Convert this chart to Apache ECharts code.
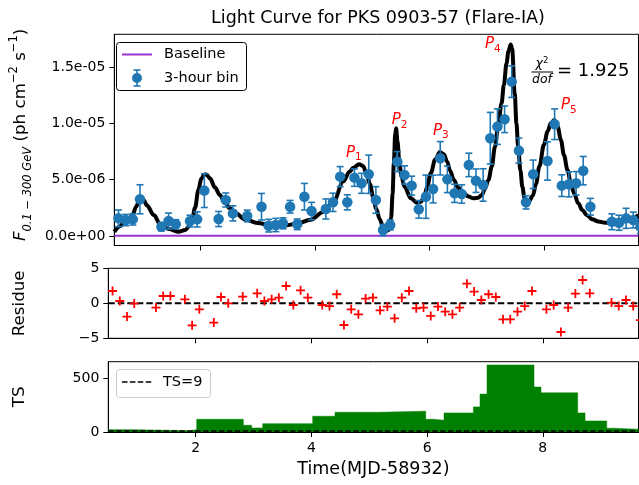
<!DOCTYPE html>
<html><head><meta charset="utf-8">
<script src="https://cdn.jsdelivr.net/npm/echarts@6/dist/echarts.min.js"></script>
<style>html,body{margin:0;padding:0;background:#fff}#c{width:639px;height:485px}</style>
</head><body><div id="c"></div>
<script>
// ---- data (flux values in units of 1e-6 ph cm^-2 s^-1) ----
const times = [0.5625,0.6875,0.8125,0.9375,1.3125,1.4375,1.5625,1.8125,1.9375,2.0625,2.3125,2.4375,2.5625,2.8125,
  3.0625,3.1875,3.3125,3.4375,3.5625,3.6875,3.8125,3.9375,4.1875,4.3125,4.4375,4.5625,4.6875,4.8125,4.9375,
  5.0625,5.1875,5.3125,5.4375,5.5625,5.6875,5.8125,5.9375,6.0625,6.1875,6.3125,6.4375,6.5625,6.6875,6.8125,
  6.9375,7.0625,7.1875,7.3125,7.4375,7.5625,7.6875,7.8125,8.0625,8.1875,8.3125,8.4375,8.5625,8.6875,8.8125,
  9.1875,9.3125,9.4375,9.5625,9.6875];
const fluxE6 = [1.57,1.42,1.48,3.26,0.83,1.33,1.04,1.33,1.48,4.03,1.51,3.2,2.01,1.78,
  2.6,0.92,0.98,1.13,2.6,1.04,3.49,2.22,2.4,2.99,5.27,2.99,5.18,4.68,5.48,
  3.2,0.53,0.98,6.6,5.42,4.47,2.37,3.49,4.17,6.9,5.03,3.79,3.73,6.31,4.91,
  4.53,8.68,9.71,10.36,13.7,7.58,2.99,5.48,6.66,9.92,4.47,4.59,4.68,5.8,2.6,
  1.27,1.18,1.57,1.42,0.83];
const fluxErrE6 = [0.74,0.5,0.5,1.29,0.37,0.71,0.41,0.52,0.67,1.5,0.67,0.62,0.67,0.52,
  1.18,0.56,0.59,0.49,0.56,0.47,1.18,0.77,0.89,0.81,0.89,0.67,0.77,0.89,1.7,
  1.18,0.5,0.44,0.89,0.81,0.84,0.78,1.92,1.23,1.48,1.18,0.81,0.81,1.04,1.04,
  1.44,2.29,1.58,1.18,1.4,1.11,0.59,1.26,1.7,1.36,0.96,1.11,1.04,1.26,0.74,
  0.7,0.67,0.89,0.7,0.6];
const residue = [1.76,0.33,-1.9,-0.04,-0.61,1.04,1.04,0.57,-3.14,-0.86,-2.76,0.9,0.0,0.96,
  1.43,0.33,0.57,0.81,2.47,-0.24,1.86,0.81,-0.24,-0.39,1.29,-3.1,-0.86,-1.57,0.67,
  0.81,-1.0,-0.47,-2.14,0.81,1.76,-0.71,-0.61,-1.81,-0.47,-1.19,-1.57,-0.61,2.81,1.67,
  0.47,1.29,0.9,-2.29,-2.29,-1.19,-0.39,1.76,-0.86,-0.24,-4.1,-0.61,1.39,3.33,1.43,
  0.1,-0.39,0.47,-0.39,-2.39];
const fitTimes = [0.489,0.6,0.662,0.74,0.807,0.87,0.939,1.0,1.06,1.181,1.296,1.44,1.613,1.729,1.8,1.844,1.9,1.959,
  2.01,2.062,2.1,2.161,2.25,2.334,2.42,2.506,2.62,2.766,2.996,3.227,3.457,3.687,3.919,4.149,4.321,4.494,4.6,
  4.667,4.771,4.84,4.897,4.96,5.013,5.07,5.129,5.186,5.243,5.29,5.329,5.355,5.376,5.4,5.416,5.44,5.474,5.51,
  5.561,5.675,5.779,5.85,5.907,5.96,6.021,6.1,6.183,6.25,6.309,6.36,6.425,6.5,6.598,6.68,6.771,6.85,6.914,
  6.97,7.03,7.09,7.144,7.2,7.26,7.3,7.347,7.38,7.42,7.445,7.49,7.52,7.549,7.59,7.623,7.66,7.692,7.74,7.808,
  7.86,7.922,8.0,8.067,8.12,8.181,8.24,8.297,8.35,8.413,8.47,8.527,8.6,8.672,8.75,8.845,8.95,9.075,9.2,9.364,
  9.507,9.654];
const fitFluxE6 = [0.38,0.9,1.27,1.5,1.86,2.6,3.45,3.2,2.7,1.86,0.98,0.62,0.38,0.53,0.9,1.27,2.5,4.09,
  5.1,5.45,5.45,5.12,4.3,3.64,3.0,2.46,2.0,1.5,1.15,0.95,0.92,1.1,1.45,2.16,3.05,4.85,5.7,
  6.05,6.38,6.2,5.57,4.6,3.49,2.4,1.5,0.83,0.45,0.55,1.6,3.8,6.45,9.0,9.56,8.4,6.45,5.3,
  4.38,3.35,2.96,3.05,3.49,4.4,5.57,6.8,7.45,7.25,6.6,5.8,4.97,4.3,3.79,3.5,3.35,3.4,3.64,
  4.2,4.97,6.2,7.93,9.8,11.79,13.4,15.34,16.4,17.0,16.6,12.6,10.0,7.93,5.8,4.38,3.4,2.96,3.1,3.6,
  4.6,6.2,8.1,9.3,10.0,10.3,9.7,8.53,7.2,5.86,4.7,3.79,2.9,2.31,1.85,1.48,1.3,1.18,1.18,1.27,
  1.5,1.86];
const baselineFlux = 3e-8;
const tsEdges = [0.489,0.951,1.901,2.017,2.823,2.968,3.158,4.022,4.408,5.174,5.976,6.097,6.292,6.799,6.914,
  7.035,7.848,7.969,8.603,8.73,9.105,9.231,9.66];
const tsValues = [22,12,22,119,63,38,78,147,184,194,119,110,178,234,353,624,419,365,178,103,35,25];
const tsThreshold = 9;
const xTicks = [2,4,6,8];
const fluxTicks = [0,5e-6,1e-5,1.5e-5];
const tsTicks = [0,500];
const peakLabels = ['1','2','3','4','5'];
const chiText = '= 1.925';

// ---- chart ----
const FONT = '"DejaVu Sans", sans-serif';
const XMIN = 0.489, XMAX = 9.654;
const chart = echarts.init(document.getElementById('c'), null, {renderer:'canvas'});

function sci(v){
  if (v === 0) return '0.0e+00';
  const s = v.toExponential(1).split('e');
  const sign = s[1][0] === '-' ? '-' : '+';
  const d = s[1].replace(/[+-]/,'').padStart(2,'0');
  return s[0] + 'e' + sign + d;
}
const pts = times.map((t,i)=>[t, fluxE6[i]*1e-6, fluxErrE6[i]*1e-6]);
const fitData = fitTimes.map((t,i)=>[t, fitFluxE6[i]*1e-6]);
const resData = times.map((t,i)=>[t, residue[i]]);
const tsData = tsEdges.map((e,i)=>[e, tsValues[Math.min(i, tsValues.length-1)]]);

const gl = 108.3, gw = 530.2;
const grids = [
  {left:gl, top:34.3, width:gw, height:211.2},
  {left:gl, top:268.3, width:gw, height:70},
  {left:gl, top:361.7, width:gw, height:70.3}
].map(g=>Object.assign(g,{show:true, borderColor:'#000', borderWidth:1, backgroundColor:'transparent', containLabel:false}));

function xAx(i, labels){
  return {type:'value', gridIndex:i, min:XMIN, max:XMAX,
    axisLine:{show:true, onZero:false, lineStyle:{color:'#000', width:1}},
    axisTick:{show:true, inside:false, length:5, customValues:xTicks, lineStyle:{color:'#000', width:1}},
    axisLabel:{show:labels, customValues:xTicks, margin:9, color:'#000', fontSize:14, fontFamily:FONT},
    splitLine:{show:false}};
}
function yAx(i, min, max, ticks, fmt, name, extra){
  return Object.assign({type:'value', gridIndex:i, min:min, max:max,
    axisLine:{show:true, onZero:false, lineStyle:{color:'#000', width:1}},
    axisTick:{show:true, inside:false, length:5, customValues:ticks, lineStyle:{color:'#000', width:1}},
    axisLabel:{show:true, customValues:ticks, margin:9, color:'#000', fontSize:14, fontFamily:FONT, formatter:fmt},
    splitLine:{show:false},
    name:name, nameLocation:'middle', nameRotate:90,
    nameTextStyle:{color:'#000', fontSize:16.7, fontFamily:FONT}}, extra||{});
}

const errSeries = {
  type:'custom', xAxisIndex:0, yAxisIndex:0, data:pts, encode:{x:0, y:1}, clip:false, z:3,
  renderItem:function(params, api){
    const x = api.value(0), y = api.value(1), e = api.value(2);
    const a = api.coord([x, y+e]), b = api.coord([x, y-e]);
    const cw = 3.5, st = {stroke:'#1f77b4', lineWidth:1.6};
    return {type:'group', children:[
      {type:'line', shape:{x1:a[0],y1:a[1],x2:b[0],y2:b[1]}, style:st},
      {type:'line', shape:{x1:a[0]-cw,y1:a[1],x2:a[0]+cw,y2:a[1]}, style:st},
      {type:'line', shape:{x1:b[0]-cw,y1:b[1],x2:b[0]+cw,y2:b[1]}, style:st}
    ]};
  }
};

const plusPath = 'path://M4,0h2v4h4v2h-4v4h-2v-4h-4v-2h4z';

const topName = '{i|F}{sub|0.1 − 300 GeV}{n| (ph cm}{sup|−2}{n| s}{sup|−1}{n|)}';
const richY = {
  i:{fontStyle:'italic', fontSize:16.7, lineHeight:26, fontFamily:FONT, color:'#000'},
  n:{fontSize:16.7, lineHeight:26, fontFamily:FONT, color:'#000'},
  sub:{fontStyle:'italic', fontSize:11.5, lineHeight:12, verticalAlign:'bottom', fontFamily:FONT, color:'#000'},
  sup:{fontSize:11.5, lineHeight:12, verticalAlign:'top', fontFamily:FONT, color:'#000'}
};

const peakPos = [[346,153],[391.7,120.5],[433,131],[485,44.5],[561,105.5]];
const peakGraphics = peakLabels.map((d,i)=>({
  type:'text', z:100, x:peakPos[i][0], y:peakPos[i][1],
  style:{text:'{p|P}{s|'+d+'}', textVerticalAlign:'middle', verticalAlign:'middle',
    rich:{p:{fontStyle:'italic', fontSize:15, lineHeight:20, fontFamily:FONT, fill:'#ff0000', color:'#ff0000'},
          s:{fontSize:10.5, lineHeight:10, verticalAlign:'bottom', fontFamily:FONT, fill:'#ff0000', color:'#ff0000'}}}
}));

const legendGraphics = [
  {type:'rect', z:100, shape:{x:116.5, y:42.5, width:130, height:48, r:3}, style:{fill:'rgba(255,255,255,0.85)', stroke:'#000', lineWidth:1}},
  {type:'line', z:101, shape:{x1:122, y1:54.5, x2:152, y2:54.5}, style:{stroke:'#9932cc', lineWidth:2}},
  {type:'text', z:101, x:164, y:54.5, style:{text:'Baseline', font:'14.5px '+FONT, fill:'#000', textVerticalAlign:'middle', verticalAlign:'middle'}},
  {type:'line', z:101, shape:{x1:137, y1:70, x2:137, y2:86}, style:{stroke:'#1f77b4', lineWidth:1.6}},
  {type:'line', z:101, shape:{x1:133.5, y1:70, x2:140.5, y2:70}, style:{stroke:'#1f77b4', lineWidth:1.6}},
  {type:'line', z:101, shape:{x1:133.5, y1:86, x2:140.5, y2:86}, style:{stroke:'#1f77b4', lineWidth:1.6}},
  {type:'circle', z:101, shape:{cx:137, cy:78, r:5}, style:{fill:'#1f77b4'}},
  {type:'text', z:101, x:164, y:78, style:{text:'3-hour bin', font:'14.5px '+FONT, fill:'#000', textVerticalAlign:'middle', verticalAlign:'middle'}},
  {type:'rect', z:100, shape:{x:116.5, y:369.5, width:94, height:28, r:3}, style:{fill:'rgba(255,255,255,0.85)', stroke:'#cccccc', lineWidth:1}},
  {type:'line', z:101, shape:{x1:122, y1:382, x2:152, y2:382}, style:{stroke:'#000', lineWidth:1.5, lineDash:[5.5,2.4]}},
  {type:'text', z:101, x:163, y:382, style:{text:'TS=9', font:'14.5px '+FONT, fill:'#000', textVerticalAlign:'middle', verticalAlign:'middle'}},
  // chi-square annotation
  {type:'text', z:101, x:542, y:63.5, style:{text:'{c|χ}{s|2}', textAlign:'center', align:'center', textVerticalAlign:'middle', verticalAlign:'middle',
    rich:{c:{fontStyle:'italic', fontSize:12.5, lineHeight:14, fontFamily:FONT, fill:'#000', color:'#000'},
          s:{fontSize:8.5, lineHeight:8, verticalAlign:'top', fontFamily:FONT, fill:'#000', color:'#000'}}}},
  {type:'line', z:101, shape:{x1:531.5, y1:72, x2:553, y2:72}, style:{stroke:'#000', lineWidth:1}},
  {type:'text', z:101, x:542, y:80, style:{text:'dof', font:'italic 12.5px '+FONT, fill:'#000', textAlign:'center', align:'center', textVerticalAlign:'middle', verticalAlign:'middle'}},
  {type:'text', z:101, x:557, y:71.5, style:{text:chiText, font:'18px '+FONT, fill:'#000', textVerticalAlign:'middle', verticalAlign:'middle'}}
];

const option = {
  animation:false,
  backgroundColor:'#fff',
  title:{text:'Light Curve for PKS 0903-57 (Flare-IA)', left:373, top:4, textAlign:'center',
    textStyle:{fontSize:17.5, fontWeight:'normal', color:'#000', fontFamily:FONT}},
  grid:grids,
  xAxis:[xAx(0,false), xAx(1,false),
    Object.assign(xAx(2,true), {name:'Time(MJD-58932)', nameLocation:'middle', nameGap:28,
      nameTextStyle:{color:'#000', fontSize:17.5, fontFamily:FONT}})],
  yAxis:[
    yAx(0, -0.84e-6, 17.9e-6, fluxTicks, sci, topName, {nameGap:78, nameTextStyle:{color:'#000', fontSize:16.7, fontFamily:FONT, padding:[0,0,0,10], rich:richY}}),
    yAx(1, -5, 5, [-5,0,5], v=>String(v).replace('-','−'), 'Residue', {nameGap:80}),
    yAx(2, 0, 655, tsTicks, v=>String(v), 'TS', {nameGap:80})
  ],
  series:[
    {type:'line', xAxisIndex:0, yAxisIndex:0, data:[[XMIN, baselineFlux],[XMAX, baselineFlux]], symbol:'none',
      lineStyle:{color:'#9932cc', width:2}, z:2},
    {type:'line', xAxisIndex:0, yAxisIndex:0, data:fitData, symbol:'none', smooth:0.35, smoothMonotone:'x',
      lineStyle:{color:'#000', width:4}, z:2},
    errSeries,
    {type:'scatter', xAxisIndex:0, yAxisIndex:0, data:pts.map(p=>[p[0],p[1]]), symbol:'circle', symbolSize:10.5,
      itemStyle:{color:'#1f77b4', opacity:1}, clip:false, z:4},
    {type:'line', xAxisIndex:1, yAxisIndex:1, data:[[XMIN,0],[XMAX,0]], symbol:'none',
      lineStyle:{color:'#000', width:2, type:[6.5,3]}, z:2},
    {type:'scatter', xAxisIndex:1, yAxisIndex:1, data:resData, symbol:plusPath, symbolSize:9,
      itemStyle:{color:'#ff0000', opacity:1}, clip:false, z:3},
    {type:'line', xAxisIndex:2, yAxisIndex:2, data:tsData, step:'end', symbol:'none',
      lineStyle:{color:'#008000', width:0.5}, areaStyle:{color:'#008000', opacity:1}, z:2},
    {type:'line', xAxisIndex:2, yAxisIndex:2, data:[[XMIN,tsThreshold],[XMAX,tsThreshold]], symbol:'none',
      lineStyle:{color:'#000', width:1.5, type:[5.5,2.4]}, z:3}
  ],
  graphic:legendGraphics.concat(peakGraphics)
};
chart.setOption(option);
</script>
</body></html>
